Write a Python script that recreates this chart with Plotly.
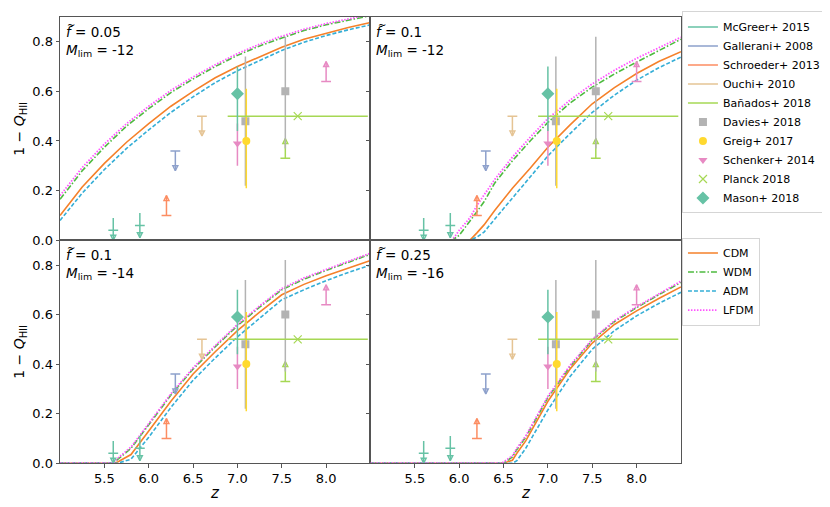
import numpy as np
import plotly.graph_objects as go
from plotly.subplots import make_subplots

# ---- model curves (1 - Q_HII vs z) ----
# top-left: f=0.05, Mlim=-12
tl_z = [5.0, 5.25, 5.5, 5.75, 6.0, 6.25, 6.5, 6.75, 7.0, 7.25, 7.5, 7.75, 8.0, 8.25, 8.5]
tl_cdm = [0.10, 0.215, 0.31, 0.395, 0.47, 0.54, 0.60, 0.655, 0.70, 0.74, 0.778, 0.81, 0.835, 0.857, 0.877]
tl_wdm = [0.165, 0.28, 0.375, 0.46, 0.53, 0.595, 0.65, 0.70, 0.745, 0.783, 0.815, 0.845, 0.868, 0.888, 0.905]
tl_adm = [0.08, 0.19, 0.285, 0.37, 0.445, 0.515, 0.578, 0.635, 0.683, 0.725, 0.765, 0.798, 0.825, 0.848, 0.868]
tl_lfdm = [0.18, 0.293, 0.388, 0.47, 0.54, 0.604, 0.658, 0.707, 0.752, 0.79, 0.822, 0.85, 0.873, 0.893, 0.91]

# top-right: f=0.1, Mlim=-12
tr_z = [5.0, 5.92, 6.0, 6.12, 6.2, 6.28, 6.4, 6.6, 6.8, 7.0, 7.25, 7.5, 7.75, 8.0, 8.25, 8.5]
tr_cdm = [0, 0, 0, 0, 0.03, 0.062, 0.12, 0.21, 0.29, 0.375, 0.465, 0.55, 0.615, 0.672, 0.72, 0.76]
tr_wdm = [0, 0, 0.02, 0.075, 0.115, 0.155, 0.23, 0.32, 0.40, 0.475, 0.553, 0.617, 0.67, 0.718, 0.765, 0.81]
tr_adm = [0, 0, 0, 0, 0.013, 0.033, 0.085, 0.17, 0.255, 0.34, 0.43, 0.515, 0.585, 0.645, 0.695, 0.738]
tr_lfdm = [0, 0, 0.04, 0.09, 0.14, 0.18, 0.245, 0.335, 0.415, 0.49, 0.565, 0.63, 0.685, 0.733, 0.777, 0.818]

# bottom-left: f=0.1, Mlim=-14
bl_z = [5.0, 5.6, 5.65, 5.8, 6.0, 6.25, 6.5, 6.75, 7.0, 7.25, 7.5, 7.75, 8.0, 8.25, 8.5]
bl_cdm = [0, 0, 0.005, 0.035, 0.13, 0.25, 0.36, 0.45, 0.535, 0.61, 0.68, 0.722, 0.757, 0.788, 0.818]
bl_wdm = [0, 0, 0.015, 0.06, 0.155, 0.275, 0.38, 0.47, 0.555, 0.63, 0.70, 0.743, 0.778, 0.81, 0.844]
bl_adm = [0, 0, 0, 0.016, 0.105, 0.225, 0.335, 0.425, 0.51, 0.585, 0.66, 0.70, 0.737, 0.77, 0.80]
bl_lfdm = [0, 0, 0.02, 0.065, 0.16, 0.28, 0.385, 0.475, 0.56, 0.635, 0.705, 0.748, 0.782, 0.814, 0.848]

# bottom-right: f=0.25, Mlim=-16
br_z = [5.0, 6.48, 6.5, 6.6, 6.65, 6.75, 7.0, 7.25, 7.5, 7.75, 8.0, 8.25, 8.5]
br_cdm = [0, 0, 0, 0.012, 0.04, 0.09, 0.25, 0.38, 0.485, 0.56, 0.615, 0.665, 0.712]
br_wdm = [0, 0, 0, 0.025, 0.055, 0.105, 0.265, 0.39, 0.497, 0.572, 0.628, 0.68, 0.73]
br_adm = [0, 0, 0, 0, 0.01, 0.06, 0.215, 0.35, 0.46, 0.535, 0.595, 0.645, 0.69]
br_lfdm = [0, 0, 0.005, 0.03, 0.06, 0.11, 0.27, 0.395, 0.50, 0.575, 0.632, 0.685, 0.735]

panel_f = ["0.05", "0.1", "0.1", "0.25"]
panel_mlim = ["-12", "-12", "-14", "-16"]

# ---- observational constraints ----
mcgreer_z = [5.6, 5.9]
mcgreer_v = [0.04, 0.06]
mcgreer_err = [0.05, 0.05]
gallerani_z = [6.3]
gallerani_v = [0.36]      # upper limit
schroeder_z = [6.2]
schroeder_v = [0.10]      # lower limit
ouchi_z = [6.6]
ouchi_v = [0.50]          # upper limit
banados_z = [7.54]
banados_v = [0.33]        # lower limit
davies_z = [7.09, 7.54]
davies_v = [0.48, 0.60]
davies_up = [0.26, 0.22]
davies_dn = [0.26, 0.23]
greig_z = [7.1]
greig_v = [0.40]
greig_up = [0.21]
greig_dn = [0.19]
schenker_z = [7.0]
schenker_v = [0.39]
schenker_up = [0.08]
schenker_dn = [0.09]
schenker_lim_z = [8.0]
schenker_lim_v = [0.64]   # lower limit
planck_z = [7.68]
planck_v = [0.50]
planck_zerr = [0.79]
mason_z = [7.0]
mason_v = [0.59]
mason_up = [0.11]
mason_dn = [0.15]

ARROW = 0.08
FONT = "DejaVu Sans"

fig = make_subplots(rows=2, cols=2, horizontal_spacing=0, vertical_spacing=0)

models = [
    ("CDM", "#f5812a", "solid", 1.6),
    ("WDM", "#4dbb3f", "6px,2px,1.5px,2px", 1.6),
    ("ADM", "#35aed6", "4px,2px", 1.6),
    ("LFDM", "#ff55ff", "1.5px,1.5px", 1.8),
]
panels = [
    (1, 1, tl_z, [tl_cdm, tl_wdm, tl_adm, tl_lfdm]),
    (1, 2, tr_z, [tr_cdm, tr_wdm, tr_adm, tr_lfdm]),
    (2, 1, bl_z, [bl_cdm, bl_wdm, bl_adm, bl_lfdm]),
    (2, 2, br_z, [br_cdm, br_wdm, br_adm, br_lfdm]),
]


def add_limit(z, start, cap, tip, color, name, row, col, show, down):
    z = np.asarray(z, float)
    xs, ys = [], []
    for a, b, c in zip(z, start, tip):
        xs += [a, a, None]
        ys += [b, c, None]
    fig.add_trace(go.Scatter(x=xs, y=ys, mode="lines", name=name,
                             line=dict(color=color, width=1.5),
                             showlegend=show, legend="legend", hoverinfo="skip"),
                  row=row, col=col)
    fig.add_trace(go.Scatter(x=z, y=cap, mode="markers", showlegend=False,
                             marker=dict(symbol="line-ew", size=7, color=color,
                                         line=dict(color=color, width=1.5))),
                  row=row, col=col)
    sym = "arrow-down-open" if down else "arrow-up-open"
    fig.add_trace(go.Scatter(x=z, y=tip, mode="markers", showlegend=False,
                             marker=dict(symbol=sym, size=5, color=color,
                                         line=dict(color=color, width=1.4))),
                  row=row, col=col)


def add_point(z, v, up, dn, color, symbol, size, name, row, col, show):
    fig.add_trace(go.Scatter(x=z, y=v, mode="markers", name=name,
                             showlegend=show, legend="legend",
                             marker=dict(symbol=symbol, size=size, color=color),
                             error_y=dict(type="data", symmetric=False, array=up,
                                          arrayminus=dn, color=color,
                                          thickness=1.5, width=0)),
                  row=row, col=col)


for i, (row, col, z, curves) in enumerate(panels):
    first = i == 0
    for (name, color, dash, w), y in zip(models, curves):
        fig.add_trace(go.Scatter(x=z, y=y, mode="lines", name=name,
                                 line=dict(color=color, dash=dash, width=w),
                                 showlegend=first, legend="legend2"),
                      row=row, col=col)

    mv = np.asarray(mcgreer_v)
    me = np.asarray(mcgreer_err)
    add_limit(mcgreer_z, mv + me, mv, np.maximum(mv - me, 0), "#66c2a5",
              "McGreer+ 2015", row, col, first, True)
    gv = np.asarray(gallerani_v)
    add_limit(gallerani_z, gv, gv, gv - ARROW, "#8da0cb", "Gallerani+ 2008",
              row, col, first, True)
    sv = np.asarray(schroeder_v)
    add_limit(schroeder_z, sv, sv, sv + ARROW, "#fc8d62", "Schroeder+ 2013",
              row, col, first, False)
    ov = np.asarray(ouchi_v)
    add_limit(ouchi_z, ov, ov, ov - ARROW, "#e5c494", "Ouchi+ 2010",
              row, col, first, True)
    bv = np.asarray(banados_v)
    add_limit(banados_z, bv, bv, bv + ARROW, "#a6d854", "Bañados+ 2018",
              row, col, first, False)

    add_point(davies_z, davies_v, davies_up, davies_dn, "#b3b3b3", "square", 8,
              "Davies+ 2018", row, col, first)
    add_point(greig_z, greig_v, greig_up, greig_dn, "#ffd92f", "circle", 8,
              "Greig+ 2017", row, col, first)
    add_point(schenker_z, schenker_v, schenker_up, schenker_dn, "#e78ac3",
              "triangle-down", 8, "Schenker+ 2014", row, col, first)
    fig.add_trace(go.Scatter(x=planck_z, y=planck_v, mode="markers", name="Planck 2018",
                             showlegend=first, legend="legend",
                             marker=dict(symbol="x-thin-open", size=8, color="#a6d854",
                                         line=dict(color="#a6d854", width=1.2)),
                             error_x=dict(type="data", array=planck_zerr, color="#a6d854",
                                          thickness=1.5, width=0)),
                  row=row, col=col)
    add_point(mason_z, mason_v, mason_up, mason_dn, "#66c2a5", "diamond", 10,
              "Mason+ 2018", row, col, first)
    slv = np.asarray(schenker_lim_v)
    add_limit(schenker_lim_z, slv, slv, slv + ARROW, "#e78ac3", "Schenker+ 2014",
              row, col, False, False)

    # panel parameters: f-tilde and M_lim
    ax = "" if i == 0 else str(i + 1)
    fig.add_annotation(xref=f"x{ax} domain", yref=f"y{ax} domain", x=0.012, y=0.978,
                       xanchor="left", yanchor="top", showarrow=False, align="left",
                       text=f"<i>f</i> = {panel_f[i]}<br><i>M</i><sub>lim</sub> = {panel_mlim[i]}",
                       font=dict(family=FONT, size=13.5, color="black"))
    fig.add_annotation(xref=f"x{ax} domain", yref=f"y{ax} domain", x=0.012, y=0.978,
                       xanchor="left", yanchor="top", showarrow=False,
                       xshift=1.5, yshift=4, text="~",
                       font=dict(family=FONT, size=10, color="black"))

# axes
xdom = [[0.0627, 0.4367], [0.4367, 0.8108]]
ydom = [[0.5345, 0.9822], [0.0878, 0.5345]]
for row in (1, 2):
    for col in (1, 2):
        fig.update_xaxes(range=[5.0, 8.5], domain=xdom[col - 1],
                         tickvals=[5.5, 6.0, 6.5, 7.0, 7.5, 8.0], tickformat=".1f",
                         showticklabels=(row == 2), ticks="outside" if row == 2 else "",
                         ticklen=3.5, tickcolor="#555", showgrid=False, zeroline=False,
                         showline=True, mirror=True, linecolor="#555", linewidth=1,
                         tickfont=dict(family=FONT, size=13, color="black"),
                         row=row, col=col)
        fig.update_yaxes(range=[0, 0.9], domain=ydom[row - 1],
                         tickvals=[0.0, 0.2, 0.4, 0.6, 0.8], tickformat=".1f",
                         showticklabels=(col == 1), ticks="outside", ticklen=3.5,
                         tickcolor="#555", showgrid=False, zeroline=False,
                         showline=True, mirror=True, linecolor="#555", linewidth=1,
                         tickfont=dict(family=FONT, size=13, color="black"),
                         row=row, col=col)

# axis labels
for yc in (0.758, 0.311):
    fig.add_annotation(xref="paper", yref="paper", x=0.0145, y=yc, showarrow=False,
                       xanchor="center", yanchor="middle", textangle=-90,
                       text="1 − <i>Q</i><sub>HII</sub>",
                       font=dict(family=FONT, size=14, color="black"))
for xc in (0.2497, 0.6238):
    fig.add_annotation(xref="paper", yref="paper", x=xc, y=0.029, showarrow=False,
                       xanchor="center", yanchor="middle",
                       text="<i>z</i>", font=dict(family=FONT, size=15, color="black"))

legend_style = dict(xanchor="left", yanchor="top", bgcolor="white",
                    bordercolor="#d5d5d5", borderwidth=1, tracegroupgap=0,
                    itemwidth=30, font=dict(family=FONT, size=11, color="black"))
fig.update_layout(
    width=830, height=507,
    margin=dict(l=0, r=0, t=0, b=0),
    plot_bgcolor="white", paper_bgcolor="white",
    font=dict(family=FONT),
    legend=dict(x=0.812, y=0.993, **legend_style),
    legend2=dict(x=0.812, y=0.54, **legend_style),
)

fig.write_html("out.html")
